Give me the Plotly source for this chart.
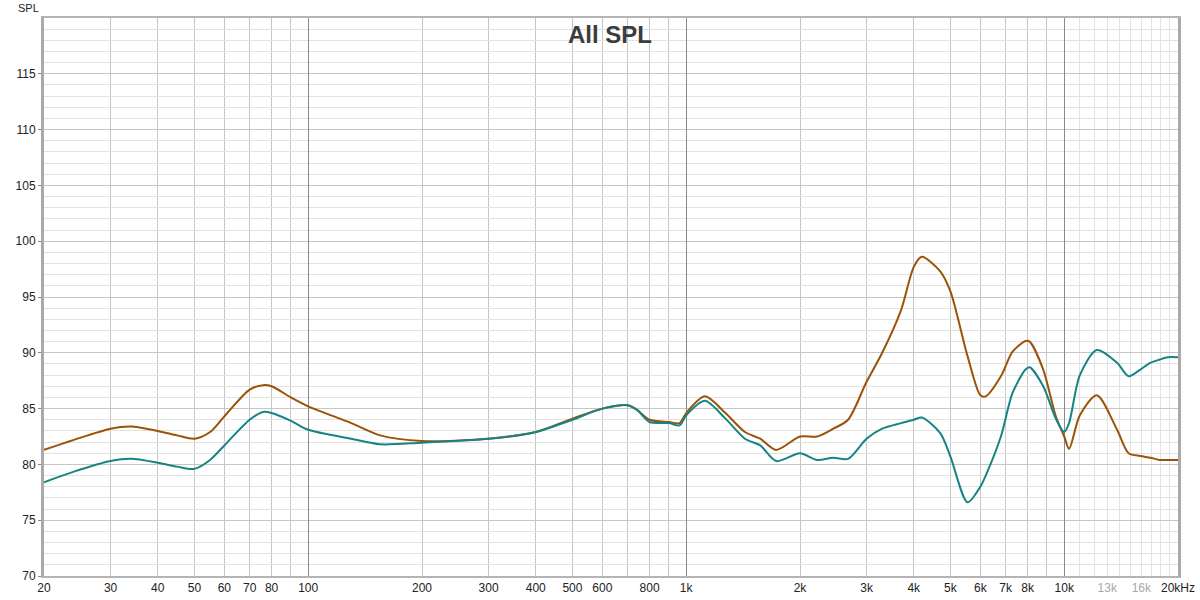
import math
import plotly.graph_objects as go

# ---- data ----
freq_hz = [20, 24, 30, 34, 40, 45, 50, 55, 60, 70, 76, 80, 90, 100, 130, 155, 200, 300, 400,
           500, 600, 700, 740, 800, 900, 960, 1000, 1120, 1270, 1430, 1570, 1730, 2000, 2220,
           2450, 2680, 3000, 3300, 3700, 4000, 4200, 4700, 5000, 5550, 6000, 6200, 6800, 7300,
           7900, 8100, 8800, 9500, 10000, 10300, 11000, 12200, 13800, 14800, 15900, 16900,
           17900, 18800, 20000]

spl_brown = [81.3, 82.2, 83.2, 83.4, 83.0, 82.6, 82.3, 82.9, 84.3, 86.7, 87.1, 87.0, 86.0, 85.2,
             83.7, 82.6, 82.1, 82.3, 82.9, 84.1, 85.0, 85.3, 84.9, 84.0, 83.8, 83.7, 84.6, 86.1,
             84.6, 82.9, 82.3, 81.3, 82.5, 82.5, 83.2, 84.0, 87.4, 90.0, 93.8, 97.7, 98.6, 97.3,
             95.5, 89.7, 86.2, 86.1, 87.9, 90.1, 91.05, 91.0, 88.5, 84.3, 82.5, 81.4, 84.4, 86.2,
             83.1, 81.0, 80.75, 80.6, 80.4, 80.4, 80.4]

spl_teal = [78.4, 79.35, 80.3, 80.5, 80.15, 79.8, 79.6, 80.4, 81.7, 84.0, 84.7, 84.6, 83.9, 83.1,
            82.3, 81.8, 81.95, 82.3, 82.9, 84.0, 85.0, 85.3, 84.9, 83.8, 83.7, 83.5, 84.4, 85.7,
            84.1, 82.3, 81.7, 80.3, 81.0, 80.4, 80.6, 80.5, 82.3, 83.2, 83.7, 84.0, 84.2, 82.8,
            80.7, 76.6, 78.0, 79.0, 82.5, 86.4, 88.5, 88.7, 87.0, 84.1, 82.9, 83.7, 88.0, 90.25,
            89.1, 87.9, 88.5, 89.1, 89.4, 89.6, 89.6]

x_tick_vals = [20, 30, 40, 50, 60, 70, 80, 100, 200, 300, 400, 500, 600, 800, 1000, 2000, 3000,
               4000, 5000, 6000, 7000, 8000, 10000, 13000, 16000, 20000]
x_tick_text = ["20", "30", "40", "50", "60", "70", "80", "100", "200", "300", "400", "500", "600",
               "800", "1k", "2k", "3k", "4k", "5k", "6k", "7k", "8k", "10k",
               "<span style='color:#a8a8a8'>13k</span>",
               "<span style='color:#a8a8a8'>16k</span>", "20kHz"]
x_grid_mid = [30, 40, 50, 60, 70, 80, 90, 200, 300, 400, 500, 600, 700, 800, 900,
              2000, 3000, 4000, 5000, 6000, 7000, 8000, 9000]
x_grid_decade = [100, 1000, 10000]
x_grid_fine = [11000, 12000, 13000, 14000, 15000, 16000, 17000, 18000, 19000]
y_tick_vals = [70, 75, 80, 85, 90, 95, 100, 105, 110, 115]

FONT = "Liberation Sans, Arial, sans-serif"
xr = [math.log10(20), math.log10(20000)]

fig = go.Figure()
fig.add_trace(go.Scatter(x=freq_hz, y=spl_brown, mode="lines",
                         line=dict(color="#9b5209", width=2, shape="spline", smoothing=0.8),
                         hoverinfo="skip", xaxis="x", yaxis="y"))
fig.add_trace(go.Scatter(x=freq_hz, y=spl_teal, mode="lines",
                         line=dict(color="#178484", width=2, shape="spline", smoothing=0.8),
                         hoverinfo="skip", xaxis="x2", yaxis="y"))

fig.update_layout(
    width=1200, height=600,
    margin=dict(l=44, r=22, t=18, b=24, autoexpand=False),
    paper_bgcolor="white", plot_bgcolor="white",
    showlegend=False,
    font=dict(family=FONT, size=12, color="#222222"),
    xaxis=dict(
        type="log", range=xr, tickmode="array", tickvals=x_tick_vals, ticktext=x_tick_text,
        showgrid=False, zeroline=False, ticks="", tickfont=dict(size=12, color="#222222"),
        showline=True, mirror=True, linecolor="#b4b4b4", linewidth=2, automargin=False,
        minor=dict(tickmode="array", tickvals=x_grid_mid, showgrid=True,
                   gridcolor="#c6c6c6", gridwidth=1, ticks=""),
    ),
    xaxis2=dict(
        type="log", range=xr, overlaying="x", anchor="y", tickmode="array",
        tickvals=x_grid_decade, showticklabels=False, showgrid=True,
        gridcolor="#8a8a8a", gridwidth=1, zeroline=False, ticks="", showline=False,
        automargin=False,
        minor=dict(tickmode="array", tickvals=x_grid_fine, showgrid=True,
                   gridcolor="#e2e2e2", gridwidth=1, ticks=""),
    ),
    yaxis=dict(
        range=[70, 120], tickmode="array", tickvals=y_tick_vals,
        showgrid=True, gridcolor="#c6c6c6", gridwidth=1, zeroline=False,
        ticks="outside", ticklen=3, tickcolor="#888888",
        tickfont=dict(size=12, color="#222222"), automargin=False,
        showline=True, mirror=True, linecolor="#aaaaaa", linewidth=3,
        minor=dict(dtick=1, showgrid=True, gridcolor="#e2e2e2", gridwidth=1, ticks=""),
    ),
    annotations=[
        dict(text="<b>All SPL</b>", xref="paper", yref="paper", x=0.499, y=0.97,
             xanchor="center", yanchor="middle", showarrow=False,
             font=dict(family=FONT, size=24, color="#3c3c3c")),
        dict(text="SPL", xref="paper", yref="paper", x=-0.014, y=1.018,
             xanchor="center", yanchor="middle", showarrow=False,
             font=dict(family=FONT, size=11, color="#222222")),
    ],
)

fig.write_html("out.html", config={"displayModeBar": False, "staticPlot": True},
               post_script="document.body.style.margin='0';document.body.style.overflow='hidden';")
